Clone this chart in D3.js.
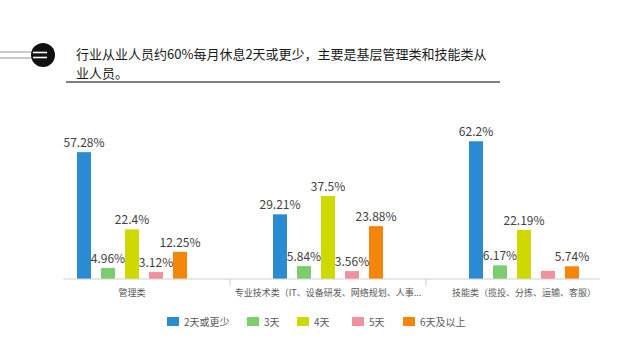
<!DOCTYPE html>
<html>
<head>
<meta charset="utf-8">
<script src="https://cdn.jsdelivr.net/npm/d3@7/dist/d3.min.js"></script>
<style>
  html, body { margin: 0; padding: 0; background: #fff; }
  svg { display: block; font-family: "Noto Sans CJK SC", "Noto Sans", sans-serif; }
</style>
</head>
<body>
<svg id="chart" width="640" height="355"></svg>
<script>
const titleLines = ["行业从业人员约60%每月休息2天或更少，主要是基层管理类和技能类从", "业人员。"];
const categories = ["管理类", "专业技术类（IT、设备研发、网络规划、人事...", "技能类（揽投、分拣、运输、客服）"];
const seriesNames = ["2天或更少", "3天", "4天", "5天", "6天及以上"];
const seriesColors = ["#2a8bd3", "#7dcc6e", "#cfd900", "#f1919a", "#f5860b"];
const s2days = [57.28, 29.21, 62.2];
const s3days = [4.96, 5.84, 6.17];
const s4days = [22.4, 37.5, 22.19];
const s5days = [3.12, 3.56, 3.7];
const s6days = [12.25, 23.88, 5.74];
const labelText = [
  ["57.28%", "29.21%", "62.2%"],
  ["4.96%", "5.84%", "6.17%"],
  ["22.4%", "37.5%", "22.19%"],
  ["3.12%", "3.56%", ""],
  ["12.25%", "23.88%", "5.74%"]
];
const seriesValues = [s2days, s3days, s4days, s5days, s6days];

const svg = d3.select("#chart");

// Header decoration
const head = svg.append("g");
head.append("line").attr("x1", 0).attr("x2", 40).attr("y1", 52).attr("y2", 52).attr("stroke", "#b8b8b8").attr("stroke-width", 1.3);
head.append("line").attr("x1", 0).attr("x2", 40).attr("y1", 58).attr("y2", 58).attr("stroke", "#b8b8b8").attr("stroke-width", 1.3);
head.append("circle").attr("cx", 43).attr("cy", 55).attr("r", 12).attr("fill", "#111");
head.append("line").attr("x1", 33).attr("x2", 47).attr("y1", 52.5).attr("y2", 52.5).attr("stroke", "#fff").attr("stroke-width", 1.6);
head.append("line").attr("x1", 33).attr("x2", 47).attr("y1", 57.5).attr("y2", 57.5).attr("stroke", "#fff").attr("stroke-width", 1.6);

head.selectAll("text.title").data(titleLines).join("text")
  .attr("class", "title")
  .attr("x", 76).attr("y", (d, i) => 59 + i * 19)
  .attr("font-size", 13).attr("fill", "#1a1a1a")
  .text(d => d);
head.append("line").attr("x1", 66).attr("x2", 500).attr("y1", 82).attr("y2", 82).attr("stroke", "#555").attr("stroke-width", 1.5);

// Scales
const groupW = 110;
const x0 = d3.scaleBand().domain(categories).range([34, 622]);
const x1 = d3.scaleBand().domain(seriesNames).range([0, groupW]).paddingInner(0.417);
const y = d3.scaleLinear().domain([0, 70]).range([279, 124]);

const data = categories.map((c, ci) => seriesNames.map((s, si) => ({ cat: c, ser: s, si, ci, v: seriesValues[si][ci], label: labelText[si][ci] })));

const groups = svg.append("g").selectAll("g").data(data).join("g")
  .attr("transform", d => `translate(${x0(d[0].cat) + x0.bandwidth() / 2 - groupW / 2},0)`);

groups.selectAll("rect").data(d => d).join("rect")
  .attr("x", d => x1(d.ser))
  .attr("width", x1.bandwidth())
  .attr("y", d => y(d.v))
  .attr("height", d => y(0) - y(d.v))
  .attr("fill", d => seriesColors[d.si]);

groups.selectAll("text").data(d => d).join("text")
  .attr("x", d => x1(d.ser) + x1.bandwidth() / 2)
  .attr("y", d => y(d.v) - 5)
  .attr("text-anchor", "middle")
  .attr("font-size", 12)
  .attr("fill", "#404040")
  .text(d => d.label);

// Axis
const axis = svg.append("g");
axis.append("line").attr("x1", 63).attr("x2", 600).attr("y1", 279).attr("y2", 279).attr("stroke", "#d0d0d0").attr("stroke-width", 1);
axis.selectAll("line.tick").data(categories.slice(1)).join("line")
  .attr("class", "tick")
  .attr("x1", d => x0(d)).attr("x2", d => x0(d))
  .attr("y1", 279).attr("y2", 286)
  .attr("stroke", "#d0d0d0");
axis.selectAll("text").data(categories).join("text")
  .attr("x", d => x0(d) + x0.bandwidth() / 2)
  .attr("y", 296)
  .attr("text-anchor", "middle")
  .attr("font-size", 9)
  .attr("fill", "#595959")
  .text(d => d);

// Legend
const legendX = [167, 247, 297, 352, 403];
const legend = svg.append("g").selectAll("g").data(seriesNames).join("g")
  .attr("transform", (d, i) => `translate(${legendX[i]},317)`);
legend.append("rect").attr("width", 12).attr("height", 9).attr("fill", (d, i) => seriesColors[i]);
legend.append("text").attr("x", 17).attr("y", 8.5).attr("font-size", 10).attr("fill", "#595959").text(d => d);
</script>
</body>
</html>
